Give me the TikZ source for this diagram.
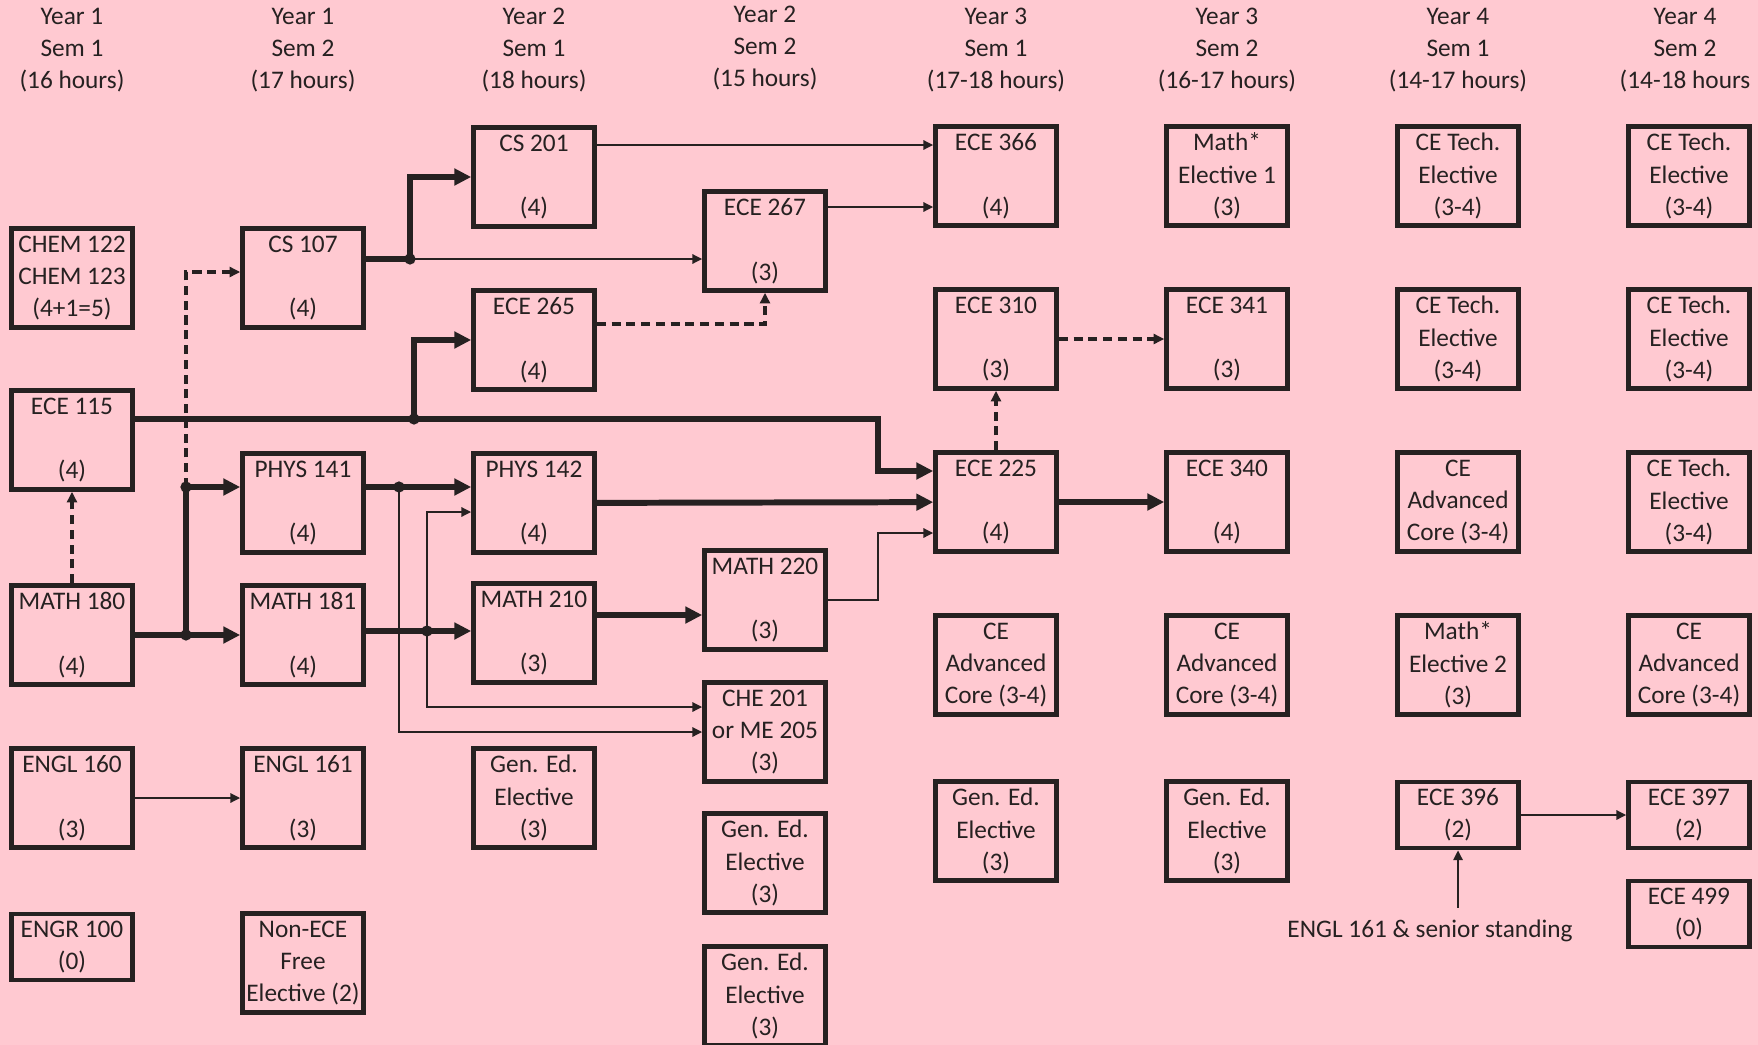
\documentclass[tikz,border=0pt]{standalone}
\usepackage{fontspec}
\setmainfont{Carlito}
\usepackage{tikz}
\usetikzlibrary{arrows.meta,positioning,calc}
\definecolor{pagepink}{RGB}{255,201,209}
\definecolor{inkgray}{RGB}{38,33,33}

\begin{document}
\begin{tikzpicture}[
  font=\fontsize{7.2}{9.2}\selectfont,
  course/.style={draw=inkgray, line width=1.3pt, align=center, minimum width=1.21cm, minimum height=0.99cm, inner sep=0pt, text=inkgray},
  slim/.style={course, minimum height=0.66cm},
  head/.style={align=center, text=inkgray},
  arrow/.style={-{Triangle[length=2.8pt,width=2.6pt]}, line width=0.7pt, draw=inkgray},
  bigline/.style={line width=1.7pt, draw=inkgray},
  bigarrow/.style={bigline, -{Triangle[length=4.8pt,width=4.6pt]}},
  softarrow/.style={-{Triangle[length=3pt,width=2.8pt]}, line width=1pt, dash pattern=on 2.6pt off 1.6pt, draw=inkgray},
  joint/.style={circle, fill=inkgray, inner sep=0pt, minimum size=3.2pt}
]
\path[use as bounding box, fill=pagepink] (0,0) rectangle (17.58,-10.45);

% semester headings
\node[head] (h1) at (0.72,-0.50) {Year 1\\Sem 1\\(16 hours)};
\node[head] (h2) at (3.03,-0.50) {Year 1\\Sem 2\\(17 hours)};
\node[head] (h3) at (5.34,-0.50) {Year 2\\Sem 1\\(18 hours)};
\node[head] (h4) at (7.65,-0.48) {Year 2\\Sem 2\\(15 hours)};
\node[head] (h5) at (9.96,-0.50) {Year 3\\Sem 1\\(17-18 hours)};
\node[head] (h6) at (12.27,-0.50) {Year 3\\Sem 2\\(16-17 hours)};
\node[head] (h7) at (14.58,-0.50) {Year 4\\Sem 1\\(14-17 hours)};
\node[head] (h8) at (16.85,-0.50) {Year 4\\Sem 2\\(14-18 hours};

% year 1
\node[course] (chem) at (0.72,-2.78) {CHEM 122\\CHEM 123\\(4+1=5)};
\node[course] (ece115) at (0.72,-4.40) {ECE 115\\[9.2pt](4)};
\node[course] (math180) at (0.72,-6.35) {MATH 180\\[9.2pt](4)};
\node[course] (engl160) at (0.72,-7.98) {ENGL 160\\[9.2pt](3)};
\node[slim] (engr100) at (0.72,-9.47) {ENGR 100\\(0)};

\node[course] (cs107) at (3.03,-2.78) {CS 107\\[9.2pt](4)};
\node[course] (phys141) at (3.03,-5.03) {PHYS 141\\[9.2pt](4)};
\node[course] (math181) at (3.03,-6.35) {MATH 181\\[9.2pt](4)};
\node[course] (engl161) at (3.03,-7.98) {ENGL 161\\[9.2pt](3)};
\node[course] (nonece) at (3.03,-9.63) {Non-ECE\\Free\\Elective (2)};

% year 2
\node[course] (cs201) at (5.34,-1.77) {CS 201\\[9.2pt](4)};
\node[course] (ece265) at (5.34,-3.40) {ECE 265\\[9.2pt](4)};
\node[course] (phys142) at (5.34,-5.03) {PHYS 142\\[9.2pt](4)};
\node[course] (math210) at (5.34,-6.33) {MATH 210\\[9.2pt](3)};
\node[course] (gened3) at (5.34,-7.98) {Gen. Ed.\\Elective\\(3)};

\node[course] (ece267) at (7.65,-2.41) {ECE 267\\[9.2pt](3)};
\node[course] (math220) at (7.65,-6.00) {MATH 220\\[9.2pt](3)};
\node[course] (che201) at (7.65,-7.32) {CHE 201\\or ME 205\\(3)};
\node[course] (gened4a) at (7.65,-8.63) {Gen. Ed.\\Elective\\(3)};
\node[course] (gened4b) at (7.65,-9.96) {Gen. Ed.\\Elective\\(3)};

% year 3
\node[course] (ece366) at (9.96,-1.76) {ECE 366\\[9.2pt](4)};
\node[course] (ece310) at (9.96,-3.39) {ECE 310\\[9.2pt](3)};
\node[course] (ece225) at (9.96,-5.02) {ECE 225\\[9.2pt](4)};
\node[course] (adv5) at (9.96,-6.65) {CE\\Advanced\\Core (3-4)};
\node[course] (gened5) at (9.96,-8.31) {Gen. Ed.\\Elective\\(3)};

\node[course] (math1) at (12.27,-1.76) {Math*\\Elective 1\\(3)};
\node[course] (ece341) at (12.27,-3.39) {ECE 341\\[9.2pt](3)};
\node[course] (ece340) at (12.27,-5.02) {ECE 340\\[9.2pt](4)};
\node[course] (adv6) at (12.27,-6.65) {CE\\Advanced\\Core (3-4)};
\node[course] (gened6) at (12.27,-8.31) {Gen. Ed.\\Elective\\(3)};

% year 4
\node[course] (tech7a) at (14.58,-1.76) {CE Tech.\\Elective\\(3-4)};
\node[course] (tech7b) at (14.58,-3.39) {CE Tech.\\Elective\\(3-4)};
\node[course] (adv7) at (14.58,-5.02) {CE\\Advanced\\Core (3-4)};
\node[course] (math2) at (14.58,-6.65) {Math*\\Elective 2\\(3)};
\node[slim] (ece396) at (14.58,-8.15) {ECE 396\\(2)};
\node[text=inkgray] (senior) at (14.30,-9.31) {ENGL 161 \& senior standing};

\node[course] (tech8a) at (16.89,-1.76) {CE Tech.\\Elective\\(3-4)};
\node[course] (tech8b) at (16.89,-3.39) {CE Tech.\\Elective\\(3-4)};
\node[course] (tech8c) at (16.89,-5.02) {CE Tech.\\Elective\\(3-4)};
\node[course] (adv8) at (16.89,-6.65) {CE\\Advanced\\Core (3-4)};
\node[slim] (ece397) at (16.89,-8.15) {ECE 397\\(2)};
\node[slim] (ece499) at (16.89,-9.14) {ECE 499\\(0)};

% branch points
\coordinate (j1) at (4.10,-2.59);
\coordinate (j2) at (4.14,-4.19);
\coordinate (j3) at (1.86,-6.35);
\coordinate (j4) at (1.86,-4.87);
\coordinate (j5) at (3.99,-4.87);
\coordinate (j6) at (4.27,-6.31);
\coordinate (b1) at (8.78,-4.19);
\coordinate (a1) at ($(cs201.east)+(0,0.32)$);
\coordinate (a2) at ($(ece267.east)+(0,0.34)$);
\coordinate (a3) at ($(ece265.east)+(0,0.16)$);
\coordinate (a5) at ($(math210.east)+(0,0.18)$);

\draw[bigline] (j1 -| cs107.east) -- (j1);
\draw[bigarrow] (j1) |- (cs201.west);
\draw[arrow] (j1) -- (j1 -| ece267.west);
\draw[arrow] (a1) -- (a1 -| ece366.west);
\draw[arrow] (a2) -- (a2 -| ece366.west);
\draw[softarrow] (a3) -| (ece267.south);
\draw[bigarrow] (b1 -| ece115.east) -- (b1) |- ($(ece225.west)+(0,0.31)$);
\draw[bigarrow] (j2) |- (ece265.west);
\draw[softarrow] (math180) -- (ece115);
\draw[bigarrow] (math180) -- (math181);
\draw[bigline] (j3) -- (j4);
\draw[bigarrow] (j4) -- (j4 -| phys141.west);
\draw[softarrow] (j4) |- ($(cs107.west)+(0,0.06)$);
\draw[bigarrow] (j4 -| phys141.east) -- (j4 -| phys142.west);
\draw[arrow] (j5) |- (che201.west);
\draw[bigarrow] (j6 -| math181.east) -- (j6 -| math210.west);
\draw[arrow] (j6) |- ($(phys142.west)+(0,-0.09)$);
\draw[arrow] (j6) |- ($(che201.west)+(0,0.25)$);
\draw[bigarrow] (phys142) -- (ece225);
\draw[bigarrow] (a5) -- (a5 -| math220.west);
\draw[arrow] (math220.east) -- (math220.east -| b1) |- ($(ece225.west)+(0,-0.31)$);
\draw[softarrow] (ece225) -- (ece310);
\draw[softarrow] (ece310) -- (ece341);
\draw[bigarrow] (ece225) -- (ece340);
\draw[arrow] (engl160) -- (engl161);
\draw[arrow] (ece396) -- (ece397);
\draw[arrow] (senior.north -| ece396.south) -- (ece396);

\foreach \j in {j1,j2,j3,j4,j5,j6}
  \node[joint] (dot\j) at (\j) {};
\end{tikzpicture}
\end{document}
